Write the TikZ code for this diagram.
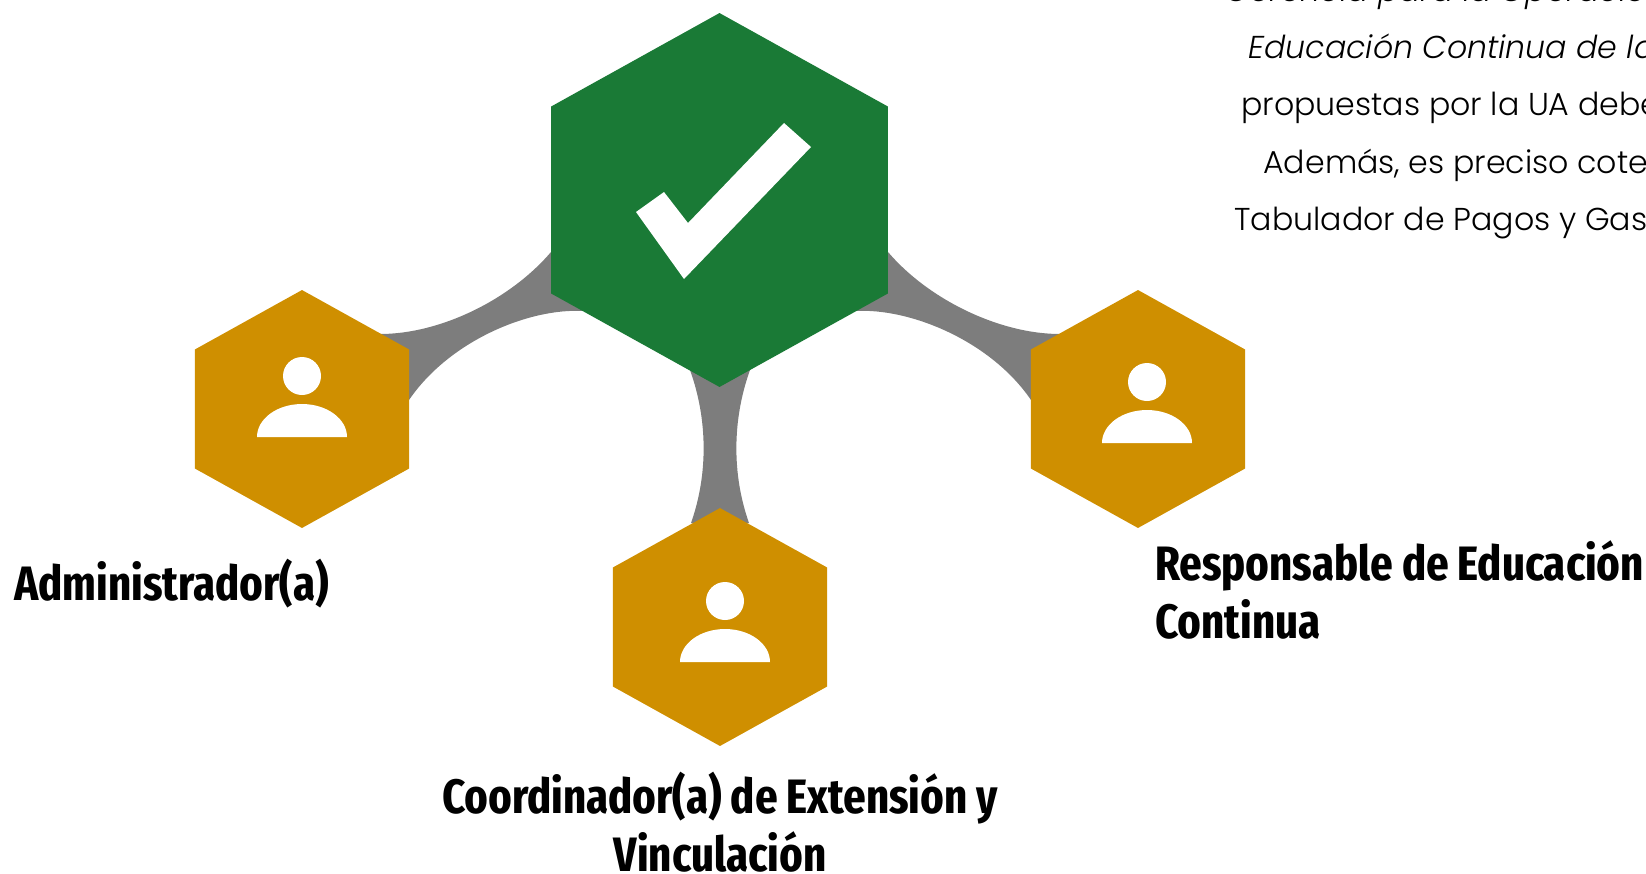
\documentclass[tikz,border=0pt]{standalone}
\usepackage{fontspec}
\usetikzlibrary{shapes.geometric,calc,backgrounds}
\setmainfont{Poppins Light}
\newfontfamily\rolefont{Fira Sans Extra Condensed Bold}
\definecolor{hubgreen}{HTML}{1A7A36}
\definecolor{leafgold}{HTML}{CF8F00}
\definecolor{linkgray}{HTML}{7D7D7D}
\tikzstyle{hexa}=[regular polygon,regular polygon sides=6,shape border rotate=90,inner sep=0pt,outer sep=0pt,xscale=1.04,transform shape]
\tikzstyle{rolelabel}=[anchor=base west,inner sep=0pt,font=\rolefont\fontsize{27.5}{32.5}\selectfont]
\tikzstyle{bodytext}=[anchor=base west,inner sep=0pt,font=\fontsize{18}{22}\selectfont]

\begin{document}
\begin{tikzpicture}[x=0.02cm,y=-0.02cm]
  \useasboundingbox (0,0) rectangle (1646,873);
  \clip (0,0) rectangle (1646,873);
  \node[hexa,fill=hubgreen,minimum size=7.48cm] (hub) at (719.5,200) {};
  \foreach \place/\name/\head in {{(302,409)/admin/(302,376)},
                                  {(1138,409)/resp/(1147,382)},
                                  {(720,627)/coord/(725,601)}}
  {
    \node[hexa,fill=leafgold,minimum size=4.76cm] (\name) at \place {};
    \fill[white] \head circle (19);
    \fill[white] \head ++(-45,61) arc[start angle=180,end angle=360,x radius=45,y radius=33] -- cycle;
  }
  % links behind the hexagons
  \begin{scope}[on background layer]
    \foreach \s/\leaf in {-1/admin,1/resp}
      \fill[linkgray] ($(hub)+(\s*168.5,52)$) .. controls +(\s*41,48) and +(\s*-60,0) .. ($(\leaf)+(\s*-78,-75)$)
        -- ($(\leaf)+(\s*-107,-9)$) .. controls +(\s*-41,-60) and +(\s*53,-3) .. ($(hub)+(\s*136.5,111)$) -- cycle;
    \fill[linkgray] ($(hub)+(-29.5,170)$) .. controls +(18,50) and +(17,-48) .. ($(coord)+(-29,-104)$)
      -- ($(coord)+(29,-104)$) .. controls +(-17,-48) and +(-18,50) .. ($(hub)+(30.5,170)$) -- cycle;
  \end{scope}
  % check mark
  \fill[white] (784,123) -- (811,147) -- (684,279) -- (636,212) -- (664,192) -- (688,223) -- cycle;
  % texts
  \node[rolelabel] (adminlabel) at (14,600) {Administrador(a)};
  \node[rolelabel,align=left] (resplabel) at (1155,638) {Responsable de Educación\\Continua};
  \node[rolelabel,anchor=base,align=center] (coordlabel) at (720,871) {Coordinador(a) de Extensión y\\Vinculación};
  \foreach \place/\name/\line in {{(1225,1.5)/lineone/\textit{Gerencia para la Operación de}},
                                  {(1248,58)/linetwo/\textit{Educación Continua de la}},
                                  {(1241,115)/linethree/propuestas por la UA deben},
                                  {(1263,173)/linefour/Además, es preciso cotejar},
                                  {(1234,230)/linefive/Tabulador de Pagos y Gastos}}
    \node[bodytext] (\name) at \place {\line};
\end{tikzpicture}
\end{document}
